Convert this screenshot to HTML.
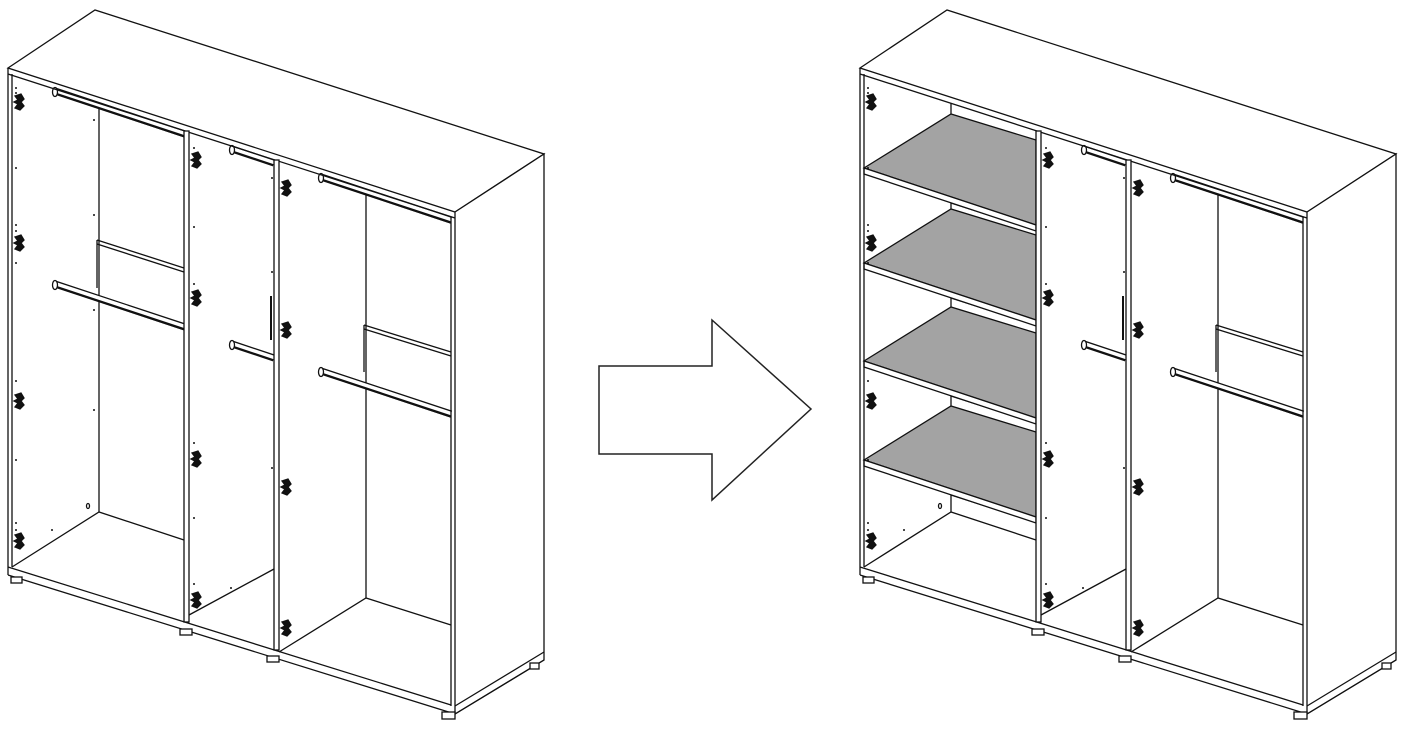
<!DOCTYPE html>
<html><head><meta charset="utf-8"><style>html,body{margin:0;padding:0;background:#fff}svg{display:block}</style></head>
<body>
<svg width="1418" height="730" viewBox="0 0 1418 730" xmlns="http://www.w3.org/2000/svg">
<defs>
<g id="hinge"><path d="M-4,-6 L2,-8 L5,-3 L2,0 L5,4 L1,8 L-4,6 L-1,2 L-5,0 L-1,-2 Z" fill="#111"/></g>
<g id="rail">
  <line x1="0" y1="0" x2="130" y2="43" stroke="#111" stroke-width="7"/>
  <line x1="0" y1="-0.5" x2="130" y2="42.5" stroke="#fff" stroke-width="3.5"/>
  <line x1="1" y1="3" x2="130" y2="46" stroke="#111" stroke-width="1.5"/>
  <ellipse cx="0" cy="1" rx="2.5" ry="4.5" fill="#fff" stroke="#111" stroke-width="1.3"/>
</g>
<g id="rails2">
  <line x1="0" y1="0" x2="42" y2="14" stroke="#111" stroke-width="7"/>
  <line x1="0" y1="-0.5" x2="42" y2="13.5" stroke="#fff" stroke-width="3.5"/>
  <ellipse cx="0" cy="1" rx="2.5" ry="4.5" fill="#fff" stroke="#111" stroke-width="1.3"/>
</g>
<g id="shell" fill="none" stroke="#111" stroke-width="1.3">
  <line x1="366" y1="190" x2="366" y2="598"/>
  <polyline points="279,652 366,598 451,625"/>
  <polyline points="189,615 274,569"/>
  <line x1="364" y1="325" x2="364" y2="372"/>
  <line x1="364" y1="325" x2="451" y2="352"/>
  <line x1="364" y1="329" x2="451" y2="356"/>
  <use href="#rail" x="321" y="177"/>
  <use href="#rail" x="321" y="371"/>
  <use href="#rails2" x="232" y="149"/>
  <use href="#rails2" x="232" y="344"/>
  <line x1="271" y1="296" x2="271" y2="340" stroke-width="2"/>
  <polygon points="8,68 95,10 544,154 455,212" fill="#fff"/>
  <line x1="8" y1="74" x2="455" y2="218"/>
  <line x1="8" y1="68" x2="8" y2="575"/>
  <line x1="12" y1="74" x2="12" y2="567"/>
  <polygon points="455,212 544,154 544,660 455,714" fill="#fff"/>
  <line x1="451" y1="217" x2="451" y2="706"/>
  <rect x="184" y="131" width="5" height="491" fill="#fff"/>
  <rect x="274" y="160" width="5" height="490" fill="#fff"/>
  <line x1="8" y1="567" x2="451" y2="705"/>
  <line x1="8" y1="575" x2="455" y2="714"/>
  <line x1="455" y1="714" x2="544" y2="660"/>
  <line x1="455" y1="706" x2="544" y2="652"/>
  <rect x="11" y="577" width="11" height="6" fill="#fff"/>
  <rect x="180" y="629" width="12" height="6" fill="#fff"/>
  <rect x="267" y="656" width="12" height="6" fill="#fff"/>
  <rect x="442" y="712" width="13" height="7" fill="#fff"/>
  <rect x="530" y="663" width="9" height="6" fill="#fff"/>
  <use href="#hinge" x="19" y="102"/><use href="#hinge" x="19" y="243"/>
  <use href="#hinge" x="19" y="401"/><use href="#hinge" x="19" y="541"/>
  <use href="#hinge" x="196" y="160"/><use href="#hinge" x="196" y="298"/>
  <use href="#hinge" x="196" y="459"/><use href="#hinge" x="196" y="600"/>
  <use href="#hinge" x="286" y="188"/><use href="#hinge" x="286" y="330"/>
  <use href="#hinge" x="286" y="487"/><use href="#hinge" x="286" y="628"/>
  <g fill="#111" stroke="none">
    <circle cx="16" cy="88" r="1"/><circle cx="16" cy="93" r="1"/><circle cx="16" cy="168" r="1"/>
    <circle cx="16" cy="225" r="1"/><circle cx="16" cy="231" r="1"/><circle cx="16" cy="263" r="1"/>
    <circle cx="16" cy="381" r="1"/><circle cx="16" cy="460" r="1"/><circle cx="16" cy="523" r="1"/><circle cx="16" cy="530" r="1"/>
    <circle cx="194" cy="148" r="1"/><circle cx="194" cy="227" r="1"/><circle cx="194" cy="284" r="1"/><circle cx="194" cy="443" r="1"/><circle cx="194" cy="518" r="1"/><circle cx="194" cy="584" r="1"/>
    <circle cx="272" cy="178" r="1"/><circle cx="272" cy="272" r="1"/><circle cx="272" cy="468" r="1"/>
    <circle cx="52" cy="530" r="1"/><circle cx="231" cy="588" r="1"/>
  </g>
</g>
</defs>

<g fill="none" stroke="#111" stroke-width="1.3">
  <line x1="99" y1="103" x2="99" y2="512"/>
  <polyline points="12,567 99,512 184,540"/>
  <line x1="97" y1="240" x2="97" y2="288"/>
  <line x1="97" y1="240" x2="184" y2="268"/>
  <line x1="97" y1="244" x2="184" y2="272"/>
  <ellipse cx="88" cy="506" rx="1.5" ry="2.5"/>
</g>
<use href="#rail" x="55" y="91"/>
<use href="#rail" x="55" y="284"/>
<g fill="#111"><circle cx="94" cy="120" r="1"/><circle cx="94" cy="215" r="1"/><circle cx="94" cy="310" r="1"/><circle cx="94" cy="410" r="1"/></g>
<use href="#shell"/>

<polygon points="599,366 712,366 712,320 811,409 712,500 712,454 599,454" fill="#fff" stroke="#222" stroke-width="1.5"/>

<g transform="translate(852,0)">
  <g stroke="#111" stroke-width="1.3">
    <line x1="99" y1="103" x2="99" y2="512" fill="none"/>
    <polyline points="12,567 99,512 184,540" fill="none"/>
    <ellipse cx="88" cy="506" rx="1.5" ry="2.5" fill="none"/>
    <g fill="none">
      <line x1="99" y1="203" x2="184" y2="230"/>
      <line x1="99" y1="298" x2="184" y2="325"/>
      <line x1="99" y1="396" x2="184" y2="423"/>
      <line x1="99" y1="495" x2="184" y2="522"/>
    </g>
    <g fill="#a3a3a3">
      <polygon points="12,168 99,114 184,140 184,225"/>
      <polygon points="12,263 99,209 184,235 184,320"/>
      <polygon points="12,361 99,307 184,333 184,418"/>
      <polygon points="12,460 99,406 184,432 184,517"/>
    </g>
    <g fill="#fff">
      <polygon points="12,168 184,225 184,231 12,174"/>
      <polygon points="12,263 184,320 184,326 12,269"/>
      <polygon points="12,361 184,418 184,424 12,367"/>
      <polygon points="12,460 184,517 184,523 12,466"/>
    </g>
  </g>
  <use href="#shell"/>
</g>
</svg>
</body></html>
